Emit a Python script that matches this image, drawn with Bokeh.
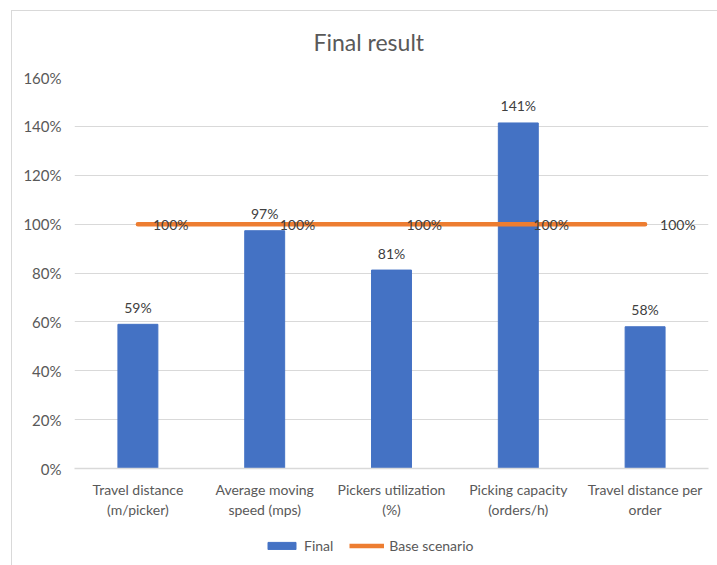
from bokeh.plotting import figure
from bokeh.layouts import column
from bokeh.models import FactorRange, FixedTicker, NumeralTickFormatter
from bokeh.core.properties import value
from bokeh.embed import file_html
from bokeh.resources import INLINE

categories = [
    "Travel distance\n(m/picker)",
    "Average moving\nspeed (mps)",
    "Pickers utilization\n(%)",
    "Picking capacity\n(orders/h)",
    "Travel distance per\norder",
]
final_values = [0.59, 0.973, 0.812, 1.414, 0.58]
base_values = [1.0, 1.0, 1.0, 1.0, 1.0]
y_ticks = [0.0, 0.2, 0.4, 0.6, 0.8, 1.0, 1.2, 1.4, 1.6]
series_names = ["Final", "Base scenario"]

final_labels = [f"{round(v * 100)}%" for v in final_values]
base_labels = [f"{round(v * 100)}%" for v in base_values]

FONT = "Lato"
TXT = "#595959"
BAR_COLOR = "#4472C4"
LINE_COLOR = "#ED7D31"

x_range = FactorRange(factors=categories)

p = figure(
    width=717, height=530,
    x_range=x_range,
    y_range=(0, 1.6),
    output_backend="svg", toolbar_location=None,
    min_border_left=74, min_border_right=9, min_border_top=77, min_border_bottom=62,
    title="Final result",
)
p.title.text_font = FONT
p.title.text_font_size = "23px"
p.title.text_font_style = "normal"
p.title.text_color = TXT
p.title.align = "left"
p.title.offset = 239
p.title.standoff = 44

p.outline_line_color = None
p.background_fill_color = "white"
p.border_fill_alpha = 0

p.vbar(x=categories, top=final_values, width=0.315, color=BAR_COLOR)
p.line(x=categories, y=base_values, line_width=4.5, line_color=LINE_COLOR, line_cap="round")

p.text(x=categories, y=final_values, text=final_labels, text_align="center",
       text_baseline="alphabetic", y_offset=-17, text_font=value(FONT),
       text_font_size="14px", text_color="#404040")
p.text(x=categories, y=base_values, text=base_labels, text_align="left",
       text_baseline="middle", x_offset=15, text_font=value(FONT),
       text_font_size="14px", text_color="#404040")

# axes
p.yaxis.ticker = FixedTicker(ticks=y_ticks)
p.yaxis.formatter = NumeralTickFormatter(format="0%")
p.yaxis.axis_line_color = None
p.yaxis.major_tick_line_color = None
p.yaxis.minor_tick_line_color = None
p.yaxis.major_tick_out = 0
p.yaxis.major_label_text_font = FONT
p.yaxis.major_label_text_font_size = "15px"
p.yaxis.major_label_text_color = TXT
p.yaxis.major_label_standoff = 13

p.xaxis.axis_line_color = "#d9d9d9"
p.xaxis.axis_line_width = 1.5
p.xaxis.major_tick_line_color = None
p.xaxis.minor_tick_line_color = None
p.xaxis.major_tick_out = 0
p.xaxis.major_label_text_font = FONT
p.xaxis.major_label_text_font_size = "14px"
p.xaxis.major_label_text_color = TXT
p.xaxis.major_label_standoff = 12

p.xgrid.grid_line_color = None
p.ygrid.grid_line_color = "#d9d9d9"
p.ygrid.grid_line_width = 1.2

# legend strip: same series drawn in a small figure whose view shows none of them,
# only its legend is visible
q = figure(width=717, height=35, x_range=x_range, y_range=(2, 3),
           output_backend="svg", toolbar_location=None,
           min_border=0, min_border_left=0, min_border_right=0,
           min_border_top=0, min_border_bottom=0)
q.vbar(x=categories, top=final_values, width=0.315, color=BAR_COLOR, legend_label=series_names[0])
q.line(x=categories, y=base_values, line_width=4.5, line_color=LINE_COLOR, legend_label=series_names[1])
q.axis.visible = False
q.grid.visible = False
q.outline_line_color = None
q.background_fill_alpha = 0
q.border_fill_alpha = 0

leg = q.legend[0]
leg.orientation = "horizontal"
leg.location = (190, 11)
leg.border_line_color = None
leg.background_fill_alpha = 0
leg.padding = 0
leg.margin = 0
leg.spacing = 16
leg.glyph_width = 35
leg.glyph_height = 9
leg.label_standoff = 5
leg.label_text_font = FONT
leg.label_text_font_size = "14px"
leg.label_text_color = TXT

layout = column(
    p, q, spacing=0,
    styles={"background": "linear-gradient(#d9d9d9, #d9d9d9) 11px 10px / 1px 100% no-repeat, "
                          "linear-gradient(#d9d9d9, #d9d9d9) 11px 10px / 100% 1px no-repeat, white"},
)

open("out.html", "w").write(file_html(layout, INLINE))
